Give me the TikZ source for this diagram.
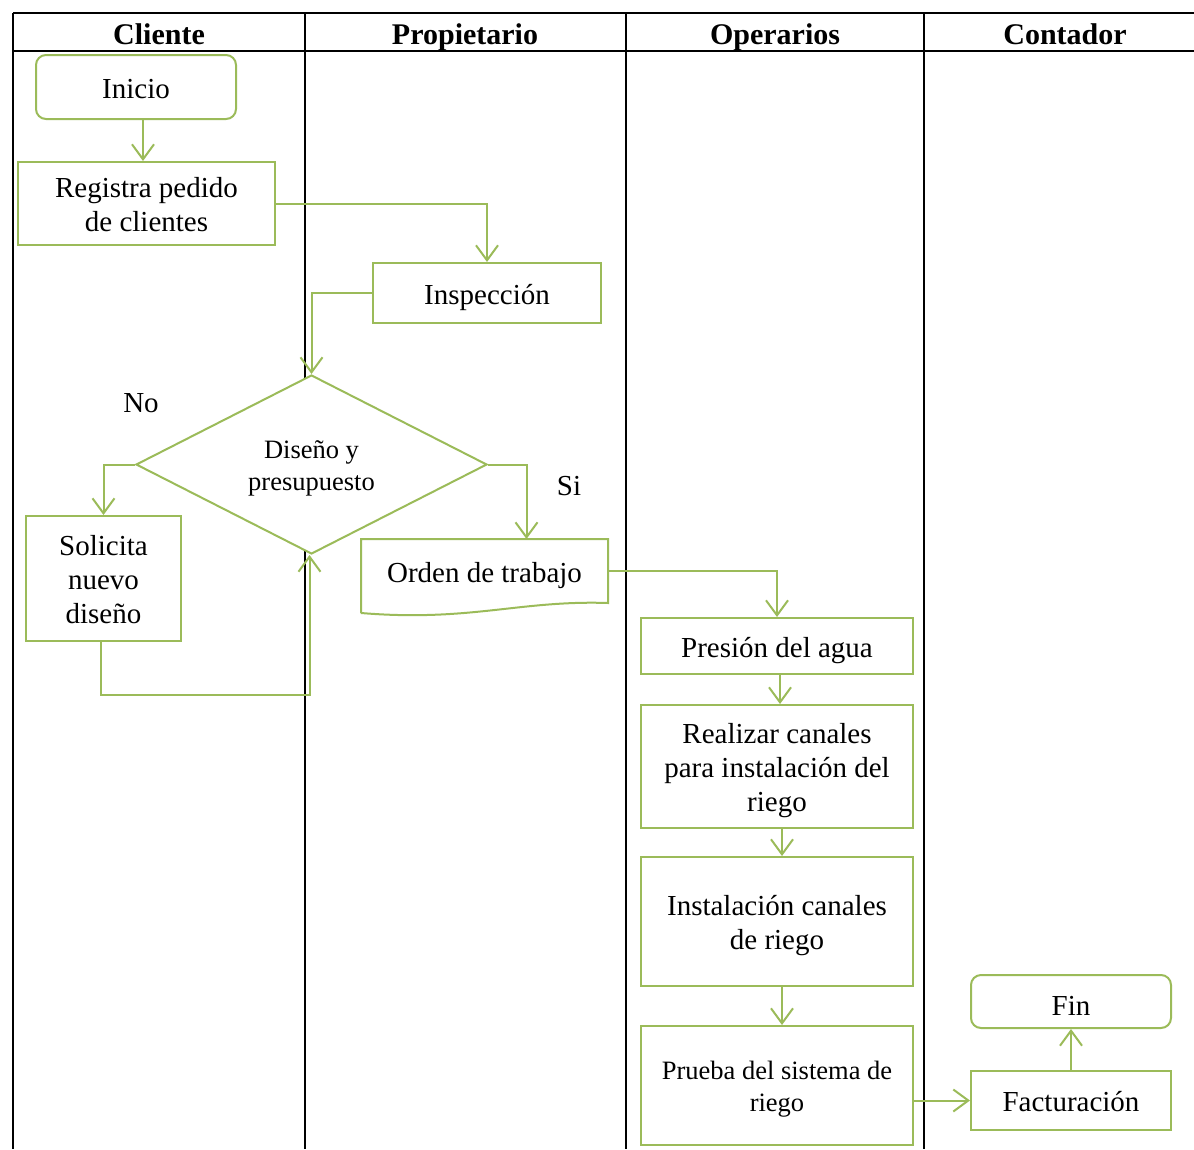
\documentclass[tikz,border=0pt]{standalone}
\usepackage{fontspec}
\setmainfont{Liberation Serif}
\usetikzlibrary{arrows.meta,shapes.geometric,calc}
\definecolor{leaf}{RGB}{155,187,89}
% struts giving every text line a fixed ascent and descent
\newcommand\topS{\rule{0pt}{30pt}}
\newcommand\botS{\rule[-8pt]{0pt}{8pt}}
\newcommand\topT{\rule{0pt}{27pt}}
\newcommand\botT{\rule[-7pt]{0pt}{7pt}}
\begin{document}
\begin{tikzpicture}[x=1pt,y=-1pt,
  lane/.style={line width=2pt,black},
  head/.style={font=\fontsize{30}{34}\selectfont\bfseries,anchor=base},
  txt/.style={font=\fontsize{29}{34}\selectfont},
  box/.style={draw=leaf,fill=white,line width=2pt,inner sep=0pt,align=center,
    font=\fontsize{29}{34}\selectfont},
  small/.style={font=\fontsize{26.5}{31.5}\selectfont},
  rbox/.style={box,rounded corners=10pt},
  flow/.style={draw=leaf,line width=2pt,
    -{Straight Barb[length=15pt,width=22pt,line width=2pt]}}]
\useasboundingbox (0,0) rectangle (1194,1149);

% swimlane table
\draw[lane] (13,13) -- (1194,13);
\draw[lane] (13,51) -- (1194,51);
\foreach \x in {13,305,626,924} \draw[lane] (\x,13) -- (\x,1149);
\node[head] (hcli) at (159,44) {Cliente};
\node[head] (hpro) at (465,44) {Propietario};
\node[head] (hope) at (775,44) {Operarios};
\node[head] (hcon) at (1065,44) {Contador};

% process steps
\node[rbox,minimum width=200pt,minimum height=64pt] (ini) at (136,87) {\topS Inicio\botS};
\node[box,minimum width=257pt,minimum height=83pt] (reg) at (146.5,203.5) {\topS Registra pedido\\de clientes\botS};
\node[box,minimum width=228pt,minimum height=60pt] (insp) at (487,293) {\topS Inspección\botS};
\node[box,diamond,aspect=1.96,minimum width=351pt,minimum height=179pt,small] (dia) at (311.5,464.5) {\topT Diseño y\\presupuesto\botT};
\node[box,minimum width=155pt,minimum height=125pt] (sol) at (103.5,578.5) {\topS Solicita\\nuevo\\diseño\botS};
\node[box,draw=none,minimum width=245pt,minimum height=62pt] (ord) at (484.5,571) {\topS Orden de trabajo\botS};
\draw[leaf,line width=2pt] ([yshift=-10pt]ord.south west) -- (ord.north west) -- (ord.north east)
  -- (ord.south east) .. controls (520,600) and (470,622) .. ([yshift=-10pt]ord.south west);
\node[box,minimum width=272pt,minimum height=56pt] (pre) at (777,646) {\topS Presión del agua\botS};
\node[box,minimum width=272pt,minimum height=123pt] (rea) at (777,766.5) {\topS Realizar canales\\para instalación del\\riego\botS};
\node[box,minimum width=272pt,minimum height=129pt] (ins) at (777,921.5) {\topS Instalación canales\\de riego\botS};
\node[box,minimum width=272pt,minimum height=119pt,small] (pru) at (777,1085.5) {\topT Prueba del sistema de\\riego\botT};
\node[box,minimum width=200pt,minimum height=59pt] (fac) at (1071,1100.5) {\topS Facturación\botS};
\node[rbox,minimum width=200pt,minimum height=53pt] (fin) at (1071,1001.5) {\rule{0pt}{35pt}Fin\botS};

% branch labels
\node[txt] (lno) at (141,403) {No};
\node[txt] (lsi) at (569,486) {Si};

% connectors
\draw[flow] ($(ini.south)+(7,0)$) -- ($(ini.south |- reg.north)+(7,0)$);
\draw[flow] (reg.east) -| (insp.north);
\draw[flow] (insp.west) -| (dia.north);
\draw[flow] (dia.west) -| (sol.north);
\draw[flow] (dia.east) -| ($(ord.north)+(42,0)$);
\draw[flow] ($(sol.south)+(-3,0)$) -- ++(0,53) -| ($(dia.south)+(-2,0)$);
\draw[flow] (ord.east) -| (pre.north);
\draw[flow] ($(pre.south)+(3,0)$) -- ($(rea.north)+(3,0)$);
\draw[flow] ($(rea.south)+(5,0)$) -- ($(ins.north)+(5,0)$);
\draw[flow] ($(ins.south)+(5,0)$) -- ($(pru.north)+(5,0)$);
\draw[flow] (pru.east |- fac.west) -- (fac.west);
\draw[flow] (fac.north) -- (fin.south);
\end{tikzpicture}
\end{document}
